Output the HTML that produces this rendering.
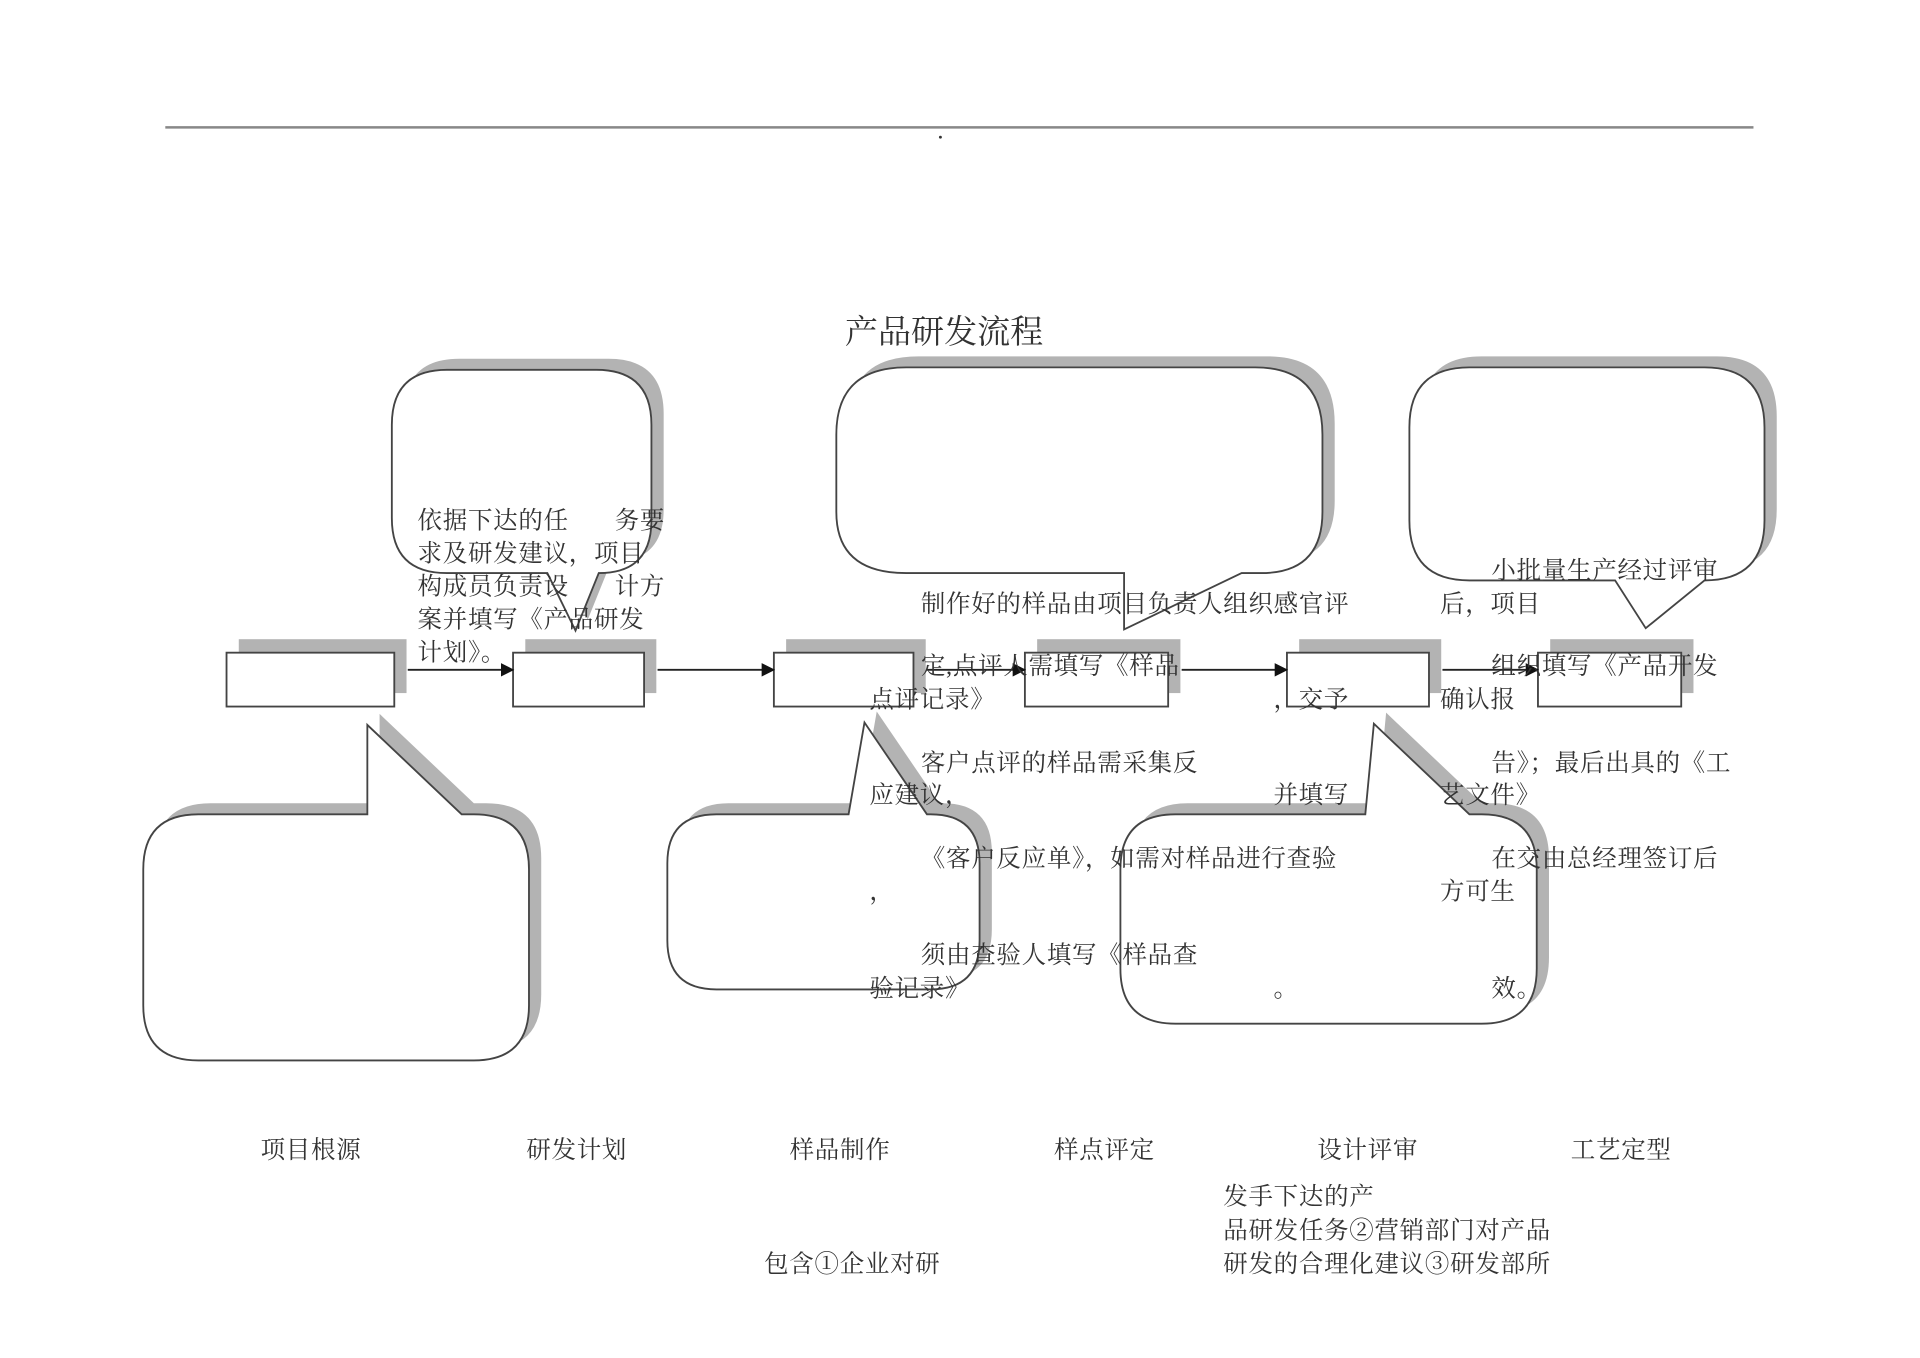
<!DOCTYPE html>
<html><head><meta charset="utf-8">
<style>
html,body{margin:0;padding:0;background:#fff;}
svg{display:block;}
text{font-family:"Liberation Serif","Noto Serif CJK SC","Noto Sans CJK SC",serif;fill:#333;font-size:20px;letter-spacing:0.6px;dominant-baseline:middle;}
</style></head>
<body>
<svg width="1920" height="1358" viewBox="0 0 1568 1109" xmlns="http://www.w3.org/2000/svg">
<defs>
<marker id="ah" markerWidth="11" markerHeight="11" refX="10" refY="5.5" orient="auto" markerUnits="userSpaceOnUse">
<path d="M0,0 L11,5.5 L0,11 Z" fill="#111"/>
</marker>
</defs>
<line x1="135" y1="104" x2="1432" y2="104" stroke="#888" stroke-width="2"/>
<circle cx="768" cy="112" r="1.2" fill="#333"/>
<text x="771" y="274" text-anchor="middle" style="font-size:27px;letter-spacing:0">产品研发流程</text>

<g fill="#b3b3b3" transform="translate(10,-9)">
<path d="M365,302 H487 Q532,302 532,347 V425 Q532,468 489,468 L470,515 L447,468 H365 Q320,468 320,423 V347 Q320,302 365,302 Z"/>
<path d="M740,300 H1025 Q1080,300 1080,355 V418 Q1080,468 1030,468 H1014 L918,514 L918,468 H740 Q683,468 683,418 V355 Q683,300 740,300 Z"/>
<path d="M1200,300 H1392 Q1441,300 1441,349 V425 Q1441,474 1392,474 L1344,513 L1319,474 H1200 Q1151,474 1151,425 V349 Q1151,300 1200,300 Z"/>
<path d="M162,665 H300 V592 L377,665 H387 Q432,665 432,710 V821 Q432,866 387,866 H162 Q117,866 117,821 V710 Q117,665 162,665 Z"/>
<path d="M585,665 H693 L706,590 L757,665 H760 Q800,665 800,705 V768 Q800,808 760,808 H585 Q545,808 545,768 V705 Q545,665 585,665 Z"/>
<path d="M960,665 H1115 L1122,591 L1200,665 H1210 Q1255,665 1255,710 V791 Q1255,836 1210,836 H960 Q915,836 915,791 V710 Q915,665 960,665 Z"/>
</g>
<g fill="#fff" stroke="#444" stroke-width="1.5">
<path d="M365,302 H487 Q532,302 532,347 V425 Q532,468 489,468 L470,515 L447,468 H365 Q320,468 320,423 V347 Q320,302 365,302 Z"/>
<path d="M740,300 H1025 Q1080,300 1080,355 V418 Q1080,468 1030,468 H1014 L918,514 L918,468 H740 Q683,468 683,418 V355 Q683,300 740,300 Z"/>
<path d="M1200,300 H1392 Q1441,300 1441,349 V425 Q1441,474 1392,474 L1344,513 L1319,474 H1200 Q1151,474 1151,425 V349 Q1151,300 1200,300 Z"/>
<path d="M162,665 H300 V592 L377,665 H387 Q432,665 432,710 V821 Q432,866 387,866 H162 Q117,866 117,821 V710 Q117,665 162,665 Z"/>
<path d="M585,665 H693 L706,590 L757,665 H760 Q800,665 800,705 V768 Q800,808 760,808 H585 Q545,808 545,768 V705 Q545,665 585,665 Z"/>
<path d="M960,665 H1115 L1122,591 L1200,665 H1210 Q1255,665 1255,710 V791 Q1255,836 1210,836 H960 Q915,836 915,791 V710 Q915,665 960,665 Z"/>
</g>

<g fill="#b3b3b3">
<rect x="195" y="522" width="137" height="44"/>
<rect x="429" y="522" width="107" height="44"/>
<rect x="642" y="522" width="114" height="44"/>
<rect x="847" y="522" width="117" height="44"/>
<rect x="1061" y="522" width="116" height="44"/>
<rect x="1266" y="522" width="117" height="44"/>
</g>
<g fill="#fff" stroke="#444" stroke-width="1.5">
<rect x="185" y="533" width="137" height="44"/>
<rect x="419" y="533" width="107" height="44"/>
<rect x="632" y="533" width="114" height="44"/>
<rect x="837" y="533" width="117" height="44"/>
<rect x="1051" y="533" width="116" height="44"/>
<rect x="1256" y="533" width="117" height="44"/>
</g>
<g stroke="#222" stroke-width="1.6" marker-end="url(#ah)">
<line x1="333" y1="547" x2="419" y2="547"/>
<line x1="537" y1="547" x2="632" y2="547"/>
<line x1="757" y1="547" x2="837" y2="547"/>
<line x1="965" y1="547" x2="1051" y2="547"/>
<line x1="1178" y1="547" x2="1256" y2="547"/>
</g>

<g transform="translate(0,3)">
<text x="341" y="424">依据下达的任</text><text x="502" y="424">务要</text>
<text x="341" y="451">求及研发建议，项目</text>
<text x="341" y="478">构成员负责设</text><text x="502" y="478">计方</text>
<text x="341" y="505">案并填写《产品研发</text>
<text x="341" y="532">计划》。</text>

<text x="752" y="492">制作好的样品由项目负责人组织感官评</text>
<text x="752" y="543">定,点评人需填写《样品</text>
<text x="710" y="570">点评记录》</text>
<text x="752" y="622">客户点评的样品需采集反</text>
<text x="710" y="648">应建议，</text>
<text x="752" y="700">《客户反应单》，如需对样品进行查验</text>
<text x="710" y="727">，</text>
<text x="752" y="779">须由查验人填写《样品查</text>
<text x="710" y="806">验记录》</text>

<text x="1040" y="570">，交予</text>
<text x="1040" y="648">并填写</text>
<text x="1040" y="806">。</text>

<text x="1218" y="465">小批量生产经过评审</text>
<text x="1176" y="492">后，项目</text>
<text x="1218" y="543">组织填写《产品开发</text>
<text x="1176" y="570">确认报</text>
<text x="1218" y="622">告》；最后出具的《工</text>
<text x="1176" y="648">艺文件》</text>
<text x="1218" y="700">在交由总经理签订后</text>
<text x="1176" y="727">方可生</text>
<text x="1218" y="806">效。</text>

<g text-anchor="middle">
<text x="254" y="938">项目根源</text>
<text x="471" y="938">研发计划</text>
<text x="686" y="938">样品制作</text>
<text x="902" y="938">样点评定</text>
<text x="1117" y="938">设计评审</text>
<text x="1324" y="938">工艺定型</text>
</g>
<text x="999" y="976">发手下达的产</text>
<text x="999" y="1004">品研发任务②营销部门对产品</text>
<text x="999" y="1031">研发的合理化建议③研发部所</text>
<text x="624" y="1031">包含①企业对研</text>
</g>
</svg>
</body></html>
